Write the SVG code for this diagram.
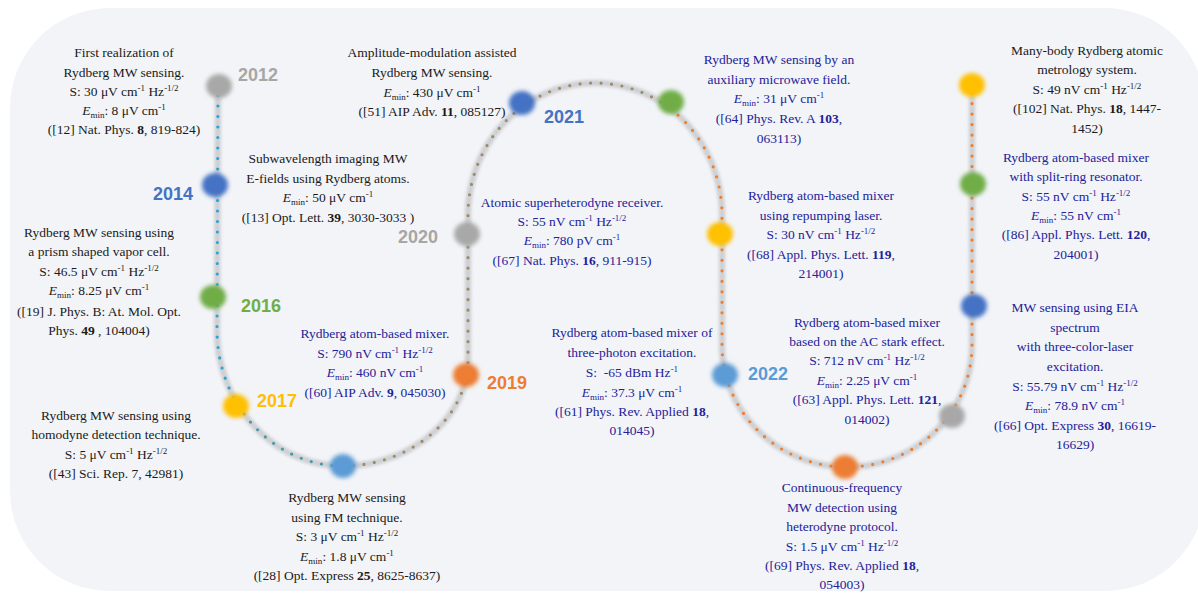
<svg xmlns="http://www.w3.org/2000/svg" width="1198" height="597" viewBox="0 0 1198 597">
<defs>
<filter id="nb" x="-60%" y="-60%" width="220%" height="220%"><feGaussianBlur stdDeviation="2.2"/></filter>
<filter id="sb" filterUnits="userSpaceOnUse" x="0" y="0" width="1198" height="597"><feGaussianBlur stdDeviation="1.6"/></filter>
</defs>
<style>
.t{font-family:"Liberation Serif","Times New Roman",serif;font-size:13.5px;text-anchor:middle}
.k{fill:#1a1a1a}
.b{fill:#222299}
.sup{font-size:9px;baseline-shift:5px}
.sub{font-size:9px;baseline-shift:-3px}
.bd{font-weight:bold}
.yr{font-family:"Liberation Sans",Arial,sans-serif;font-weight:bold;font-size:18px}
.dot{fill:none;stroke-width:3.2;stroke-linecap:round;stroke-dasharray:0 10.5}
.node{filter:url(#nb)}
</style>
<rect x="10" y="8" width="1195" height="583" rx="100" fill="#f2f4f8"/>
<g id="connectors">
<path d="M218 85 L217 330 C217 405 274 466 343 466 C410 466 468 418 468 360 L468 215 A127 132 0 0 1 722 215 L722 345 A125 122 0 0 0 972 345 L972 85" fill="none" stroke="#8c8c8c" stroke-width="7" stroke-linecap="round" stroke-dasharray="0 5.25" opacity="0.35" filter="url(#sb)"/>
<path class="dot" stroke="#2ba4da" d="M218 85 L217 330 C217 357.75 224.8 383.6 238.1 405.1"/>
<path class="dot" stroke="#4a9aaa" d="M238.1 405.1 C260.8 441.8 299.5 466 343 466"/>
<path class="dot" stroke="#9e8b6c" d="M343 466 C410 466 468 418 468 360 L468 215 A127 132 0 0 1 670 108.5"/>
<path class="dot" stroke="#f07f2e" d="M670 108.5 A127 132 0 0 1 722 215 L722 345 A125 122 0 0 0 972 345 L972 85"/>
</g>
<g id="n2012">
<ellipse class="node" cx="219" cy="86" rx="13" ry="12" fill="#a8a8a8"/>
<text class="yr" x="238" y="81" fill="#a6a6a6">2012</text>
<text class="t k" x="124" y="57">First realization of</text>
<text class="t k" x="124" y="76.7">Rydberg MW sensing.</text>
<text class="t k" x="124" y="96">S: 30 μV cm<tspan class="sup">-1</tspan> Hz<tspan class="sup">-1/2</tspan></text>
<text class="t k" x="124" y="115"><tspan font-style="italic">E</tspan><tspan class="sub">min</tspan>: 8 μV cm<tspan class="sup">-1</tspan></text>
<text class="t k" x="124" y="134">([12] Nat. Phys. <tspan class="bd">8</tspan>, 819-824)</text>
</g>
<g id="n2014">
<ellipse class="node" cx="215" cy="185" rx="13" ry="12" fill="#4472c4"/>
<text class="yr" x="153" y="200" fill="#4472c4">2014</text>
<text class="t k" x="328" y="163.3">Subwavelength imaging MW</text>
<text class="t k" x="328" y="183.3">E-fields using Rydberg atoms.</text>
<text class="t k" x="328" y="202.3"><tspan font-style="italic">E</tspan><tspan class="sub">min</tspan>: 50 μV cm<tspan class="sup">-1</tspan></text>
<text class="t k" x="328" y="221.7">([13] Opt. Lett. <tspan class="bd">39</tspan>, 3030-3033 )</text>
</g>
<g id="n2016">
<ellipse class="node" cx="213" cy="297" rx="13" ry="12" fill="#70ad47"/>
<text class="yr" x="241" y="312" fill="#70ad47">2016</text>
<text class="t k" x="99" y="236.7">Rydberg MW sensing using</text>
<text class="t k" x="99" y="256.2">a prism shaped vapor cell.</text>
<text class="t k" x="99" y="275.7">S: 46.5 μV cm<tspan class="sup">-1</tspan> Hz<tspan class="sup">-1/2</tspan></text>
<text class="t k" x="99" y="295.2"><tspan font-style="italic">E</tspan><tspan class="sub">min</tspan>: 8.25 μV cm<tspan class="sup">-1</tspan></text>
<text class="t k" x="99" y="315.7">([19] J. Phys. B: At. Mol. Opt.</text>
<text class="t k" x="99" y="335">Phys. <tspan class="bd">49</tspan> , 104004)</text>
</g>
<g id="n2017">
<ellipse class="node" cx="236" cy="406" rx="13" ry="12" fill="#ffc000"/>
<text class="yr" x="257" y="407" fill="#ffc000">2017</text>
<text class="t k" x="116" y="420">Rydberg MW sensing using</text>
<text class="t k" x="116" y="439.3">homodyne detection technique.</text>
<text class="t k" x="116" y="458.5">S: 5 μV cm<tspan class="sup">-1</tspan> Hz<tspan class="sup">-1/2</tspan></text>
<text class="t k" x="116" y="478.3">([43] Sci. Rep. 7, 42981)</text>
</g>
<g id="n2017b">
<ellipse class="node" cx="343" cy="466" rx="13" ry="12" fill="#5b9bd5"/>
<text class="t k" x="347" y="501.7">Rydberg MW sensing</text>
<text class="t k" x="347" y="521.5">using FM technique.</text>
<text class="t k" x="347" y="541.3">S: 3 μV cm<tspan class="sup">-1</tspan> Hz<tspan class="sup">-1/2</tspan></text>
<text class="t k" x="347" y="560.7"><tspan font-style="italic">E</tspan><tspan class="sub">min</tspan>: 1.8 μV cm<tspan class="sup">-1</tspan></text>
<text class="t k" x="347" y="580">([28] Opt. Express <tspan class="bd">25</tspan>, 8625-8637)</text>
</g>
<g id="n2019">
<ellipse class="node" cx="466" cy="375" rx="13" ry="12" fill="#ed7d31"/>
<text class="yr" x="487" y="389" fill="#ed7d31">2019</text>
<text class="t b" x="375" y="338.3">Rydberg atom-based mixer.</text>
<text class="t b" x="375" y="357.5">S: 790 nV cm<tspan class="sup">-1</tspan> Hz<tspan class="sup">-1/2</tspan></text>
<text class="t b" x="375" y="377"><tspan font-style="italic">E</tspan><tspan class="sub">min</tspan>: 460 nV cm<tspan class="sup">-1</tspan></text>
<text class="t b" x="375" y="396.7">([60] AIP Adv. <tspan class="bd">9</tspan>, 045030)</text>
</g>
<g id="n2020">
<ellipse class="node" cx="467" cy="234" rx="13" ry="12" fill="#a8a8a8"/>
<text class="yr" x="398" y="243" fill="#a6a6a6">2020</text>
<text class="t b" x="572" y="206.7">Atomic superheterodyne receiver.</text>
<text class="t b" x="572" y="225.5">S: 55 nV cm<tspan class="sup">-1</tspan> Hz<tspan class="sup">-1/2</tspan></text>
<text class="t b" x="572" y="245"><tspan font-style="italic">E</tspan><tspan class="sub">min</tspan>: 780 pV cm<tspan class="sup">-1</tspan></text>
<text class="t b" x="572" y="265">([67] Nat. Phys. <tspan class="bd">16</tspan>, 911-915)</text>
</g>
<g id="n2021">
<ellipse class="node" cx="522" cy="103" rx="13" ry="12" fill="#4472c4"/>
<text class="yr" x="544" y="123" fill="#4472c4">2021</text>
<text class="t k" x="432" y="57.3">Amplitude-modulation assisted</text>
<text class="t k" x="432" y="76.7">Rydberg MW sensing.</text>
<text class="t k" x="432" y="96.5"><tspan font-style="italic">E</tspan><tspan class="sub">min</tspan>: 430 μV cm<tspan class="sup">-1</tspan></text>
<text class="t k" x="432" y="116">([51] AIP Adv. <tspan class="bd">11</tspan>, 085127)</text>
</g>
<g id="n2021b">
<ellipse class="node" cx="671" cy="102" rx="13" ry="12" fill="#70ad47"/>
<text class="t b" x="779" y="64">Rydberg MW sensing by an</text>
<text class="t b" x="779" y="83.5">auxiliary microwave field.</text>
<text class="t b" x="779" y="103"><tspan font-style="italic">E</tspan><tspan class="sub">min</tspan>: 31 μV cm<tspan class="sup">-1</tspan></text>
<text class="t b" x="779" y="123">([64] Phys. Rev. A <tspan class="bd">103</tspan>,</text>
<text class="t b" x="779" y="142.7">063113)</text>
</g>
<g id="n2021c">
<ellipse class="node" cx="720" cy="234" rx="13" ry="12" fill="#ffc000"/>
<text class="t b" x="821" y="200">Rydberg atom-based mixer</text>
<text class="t b" x="821" y="219.5">using repumping laser.</text>
<text class="t b" x="821" y="238.8">S: 30 nV cm<tspan class="sup">-1</tspan> Hz<tspan class="sup">-1/2</tspan></text>
<text class="t b" x="821" y="259">([68] Appl. Phys. Lett. <tspan class="bd">119</tspan>,</text>
<text class="t b" x="821" y="278.3">214001)</text>
</g>
<g id="n2022">
<ellipse class="node" cx="725" cy="375" rx="13" ry="12" fill="#5b9bd5"/>
<text class="yr" x="748" y="380" fill="#5b9bd5">2022</text>
<text class="t b" x="632" y="337.3">Rydberg atom-based mixer of</text>
<text class="t b" x="632" y="356.7">three-photon excitation.</text>
<text class="t b" x="632" y="376.5">S:&#160; -65 dBm Hz<tspan class="sup">-1</tspan></text>
<text class="t b" x="632" y="396.5"><tspan font-style="italic">E</tspan><tspan class="sub">min</tspan>: 37.3 μV cm<tspan class="sup">-1</tspan></text>
<text class="t b" x="632" y="416">([61] Phys. Rev. Applied <tspan class="bd">18</tspan>,</text>
<text class="t b" x="632" y="435.3">014045)</text>
</g>
<g id="n2022b">
<ellipse class="node" cx="845" cy="467" rx="13" ry="12" fill="#ed7d31"/>
<text class="t b" x="842" y="492.3">Continuous-frequency</text>
<text class="t b" x="842" y="511.6">MW detection using</text>
<text class="t b" x="842" y="530.9">heterodyne protocol.</text>
<text class="t b" x="842" y="550.5">S: 1.5 μV cm<tspan class="sup">-1</tspan> Hz<tspan class="sup">-1/2</tspan></text>
<text class="t b" x="842" y="570">([69] Phys. Rev. Applied <tspan class="bd">18</tspan>,</text>
<text class="t b" x="842" y="589.3">054003)</text>
</g>
<g id="n2022c">
<ellipse class="node" cx="952" cy="416" rx="13" ry="12" fill="#a8a8a8"/>
<text class="t b" x="867" y="326.7">Rydberg atom-based mixer</text>
<text class="t b" x="867" y="346">based on the AC stark effect.</text>
<text class="t b" x="867" y="365.3">S: 712 nV cm<tspan class="sup">-1</tspan> Hz<tspan class="sup">-1/2</tspan></text>
<text class="t b" x="867" y="384.7"><tspan font-style="italic">E</tspan><tspan class="sub">min</tspan>: 2.25 μV cm<tspan class="sup">-1</tspan></text>
<text class="t b" x="867" y="404.2">([63] Appl. Phys. Lett. <tspan class="bd">121</tspan>,</text>
<text class="t b" x="867" y="423.5">014002)</text>
</g>
<g id="n2022d">
<ellipse class="node" cx="974" cy="306" rx="13" ry="12" fill="#4472c4"/>
<text class="t b" x="1075" y="311.7">MW sensing using EIA</text>
<text class="t b" x="1075" y="331.5">spectrum</text>
<text class="t b" x="1075" y="351.3">with three-color-laser</text>
<text class="t b" x="1075" y="371">excitation.</text>
<text class="t b" x="1075" y="390.5">S: 55.79 nV cm<tspan class="sup">-1</tspan> Hz<tspan class="sup">-1/2</tspan></text>
<text class="t b" x="1075" y="410"><tspan font-style="italic">E</tspan><tspan class="sub">min</tspan>: 78.9 nV cm<tspan class="sup">-1</tspan></text>
<text class="t b" x="1075" y="430">([66] Opt. Express <tspan class="bd">30</tspan>, 16619-</text>
<text class="t b" x="1075" y="449.3">16629)</text>
</g>
<g id="n2022e">
<ellipse class="node" cx="973" cy="184" rx="13" ry="12" fill="#70ad47"/>
<text class="t b" x="1076" y="161.7">Rydberg atom-based mixer</text>
<text class="t b" x="1076" y="181">with split-ring resonator.</text>
<text class="t b" x="1076" y="200.5">S: 55 nV cm<tspan class="sup">-1</tspan> Hz<tspan class="sup">-1/2</tspan></text>
<text class="t b" x="1076" y="220"><tspan font-style="italic">E</tspan><tspan class="sub">min</tspan>: 55 nV cm<tspan class="sup">-1</tspan></text>
<text class="t b" x="1076" y="239.3">([86] Appl. Phys. Lett. <tspan class="bd">120</tspan>,</text>
<text class="t b" x="1076" y="258.8">204001)</text>
</g>
<g id="n2022f">
<ellipse class="node" cx="972" cy="85" rx="13" ry="12" fill="#ffc000"/>
<text class="t k" x="1087" y="55">Many-body Rydberg atomic</text>
<text class="t k" x="1087" y="74.3">metrology system.</text>
<text class="t k" x="1087" y="93.6">S: 49 nV cm<tspan class="sup">-1</tspan> Hz<tspan class="sup">-1/2</tspan></text>
<text class="t k" x="1087" y="113.2">([102] Nat. Phys. <tspan class="bd">18</tspan>, 1447-</text>
<text class="t k" x="1087" y="132.7">1452)</text>
</g>
</svg>
